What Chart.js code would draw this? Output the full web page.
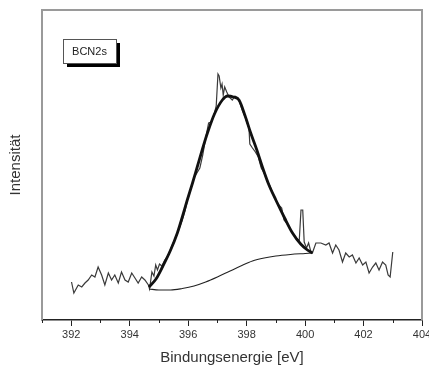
<!DOCTYPE html>
<html>
<head>
<meta charset="utf-8">
<script src="https://cdn.jsdelivr.net/npm/chart.js@4.4.0/dist/chart.umd.min.js"></script>
<style>
  html, body { margin: 0; padding: 0; background: #fff; }
  #wrap { width: 429px; height: 367px; }
</style>
</head>
<body>
<div id="wrap"><canvas id="spektrum"></canvas></div>
<script>
// Messkurve (Rohdaten), Bindungsenergie in eV / Intensitaet in willk. Einheiten
const messEnergie = [
  392.01, 392.09, 392.24, 392.36, 392.47, 392.58, 392.70, 392.81, 392.92, 393.04,
  393.15, 393.27, 393.38, 393.49, 393.61, 393.72, 393.84, 393.95, 394.07, 394.18,
  394.29, 394.41, 394.52, 394.64, 394.68, 394.76, 394.83, 394.89, 394.95, 395.02,
  395.1, 395.2, 395.3, 395.4, 395.5, 395.6, 395.7, 395.8, 395.9, 396.0,
  396.1, 396.2, 396.3, 396.4, 396.5, 396.6, 396.7, 396.8, 396.9, 396.96,
  397.02, 397.06, 397.12, 397.16, 397.2, 397.25, 397.32, 397.4, 397.51, 397.6,
  397.7, 397.77, 397.85, 397.95, 398.03, 398.08, 398.11, 398.2, 398.3, 398.4,
  398.5, 398.6, 398.7, 398.8, 398.9, 399.0, 399.1, 399.2, 399.28, 399.4,
  399.5, 399.6, 399.7, 399.8, 399.86, 399.92, 399.97, 400.05, 400.12, 400.2,
  400.25, 400.37, 400.54, 400.71, 400.82, 400.94, 401.05, 401.16, 401.28, 401.39,
  401.51, 401.62, 401.74, 401.85, 401.97, 402.08, 402.19, 402.31, 402.42, 402.53,
  402.65, 402.76, 402.84, 402.91, 403.0
];
const messWerte = [
  38, 27, 35, 33, 37, 40, 45, 43, 53, 45,
  35, 47, 40, 45, 37, 48, 40, 38, 47, 42,
  37, 43, 40, 35, 31, 48, 44, 55, 50, 56,
  54, 60, 64, 71, 78, 84, 92, 100, 110, 123,
  132, 142, 147, 152, 165, 182, 197, 198, 207, 214,
  246, 244, 232, 236, 225, 233, 228, 223, 220, 224,
  222, 217, 210, 203, 196, 192, 176, 172, 168, 163,
  152, 147, 140, 134, 126, 120, 115, 112, 100, 96,
  90, 86, 82, 79, 110, 110, 78, 72, 77, 68,
  67, 77, 77, 75, 77, 67, 75, 70, 58, 67,
  63, 65, 57, 62, 55, 58, 47, 53, 57, 50,
  58, 55, 45, 43, 68
];

// Fitkurve (dick)
const fitEnergie = [394.66, 394.9, 395.12, 395.4, 395.63, 395.8, 395.97, 396.15, 396.31, 396.5,
  396.66, 396.9, 397.17, 397.35, 397.55, 397.74, 397.95, 398.14, 398.35, 398.54,
  398.75, 399.0, 399.3, 399.57, 399.85, 400.08, 400.25];
const fitWerte = [33, 41, 53, 70, 87, 103, 120, 137, 153, 172,
  187, 206, 220, 224, 223, 220, 204, 187, 170, 153,
  136, 120, 102, 87, 76, 70, 67];

// Untergrund (duenn)
const untergrundEnergie = [394.66, 395.0, 395.4, 395.8, 396.2, 396.6, 397.0, 397.4, 397.8, 398.2,
  398.6, 399.0, 399.5, 400.0, 400.25];
const untergrundWerte = [31, 30, 30, 31.5, 34, 38, 43, 48.5, 54, 59,
  62, 64, 65.5, 66.5, 67];

const minorTicks = [391, 393, 395, 397, 399, 401, 403];
const probeName = 'BCN2s';
const schrift = '"Liberation Sans", Arial, sans-serif';

const punkte = (xs, ys) => xs.map((x, i) => ({ x, y: ys[i] }));

// Rahmen oben/rechts, Nebenstriche und Probenkasten
const rahmenPlugin = {
  id: 'rahmen',
  afterDatasetsDraw(chart) {
    const { ctx, chartArea: a, scales: { x } } = chart;
    ctx.save();
    ctx.strokeStyle = '#9a9a9a';
    ctx.lineWidth = 2;
    ctx.beginPath();
    ctx.moveTo(a.left, a.top);
    ctx.lineTo(a.right, a.top);
    ctx.lineTo(a.right, a.bottom);
    ctx.stroke();

    ctx.strokeStyle = '#222';
    ctx.lineWidth = 1;
    minorTicks.forEach(v => {
      const px = Math.round(x.getPixelForValue(v)) + 0.5;
      ctx.beginPath();
      ctx.moveTo(px, a.bottom);
      ctx.lineTo(px, a.bottom + 3);
      ctx.stroke();
    });

    const bx = a.left + 21, by = a.top + 29, bw = 53, bh = 24;
    ctx.fillStyle = '#000';
    ctx.fillRect(bx + 4, by + 4, bw, bh);
    ctx.fillStyle = '#fff';
    ctx.fillRect(bx, by, bw, bh);
    ctx.strokeStyle = '#555';
    ctx.strokeRect(bx + 0.5, by + 0.5, bw, bh);
    ctx.fillStyle = '#222';
    ctx.font = '11px ' + schrift;
    ctx.textAlign = 'center';
    ctx.textBaseline = 'middle';
    ctx.fillText(probeName, bx + bw / 2, by + bh / 2 + 1);
    ctx.restore();
  }
};

new Chart(document.getElementById('spektrum'), {
  type: 'scatter',
  data: {
    datasets: [
      {
        label: 'Fit',
        data: punkte(fitEnergie, fitWerte),
        showLine: true,
        borderColor: '#111',
        borderWidth: 2.8,
        pointRadius: 0,
        cubicInterpolationMode: 'monotone'
      },
      {
        label: 'Untergrund',
        data: punkte(untergrundEnergie, untergrundWerte),
        showLine: true,
        borderColor: '#222',
        borderWidth: 1.1,
        pointRadius: 0,
        cubicInterpolationMode: 'monotone'
      },
      {
        label: probeName,
        data: punkte(messEnergie, messWerte),
        showLine: true,
        borderColor: '#3a3a3a',
        borderWidth: 1.2,
        pointRadius: 0,
        tension: 0
      }
    ]
  },
  options: {
    responsive: true,
    maintainAspectRatio: false,
    animation: false,
    events: [],
    layout: { padding: { top: 10, right: 7, left: 0, bottom: 0 } },
    plugins: {
      legend: { display: false },
      tooltip: { enabled: false }
    },
    scales: {
      x: {
        type: 'linear',
        min: 391,
        max: 404,
        afterFit: s => { s.height = 47; s.paddingLeft = 0; s.paddingRight = 0; },
        grid: { drawOnChartArea: false, drawTicks: true, tickLength: 6, tickColor: '#222', tickWidth: 1 },
        border: { display: true, color: '#222', width: 1.5 },
        ticks: {
          stepSize: 2,
          includeBounds: false,
          padding: 2,
          color: '#333',
          font: { family: schrift, size: 11 },
          maxRotation: 0,
          callback: v => String(v)
        },
        title: {
          display: true,
          text: 'Bindungsenergie [eV]',
          color: '#333',
          font: { family: schrift, size: 15 },
          padding: { top: 0, bottom: 0 }
        }
      },
      y: {
        min: 0,
        max: 310,
        afterFit: s => { s.width = 42; },
        grid: { display: false },
        border: { display: true, color: '#9a9a9a', width: 2 },
        ticks: { display: false },
        title: {
          display: true,
          text: 'Intensität',
          color: '#333',
          font: { family: schrift, size: 15 },
          padding: { top: 7, bottom: 0 }
        }
      }
    }
  },
  plugins: [rahmenPlugin]
});
</script>
</body>
</html>
